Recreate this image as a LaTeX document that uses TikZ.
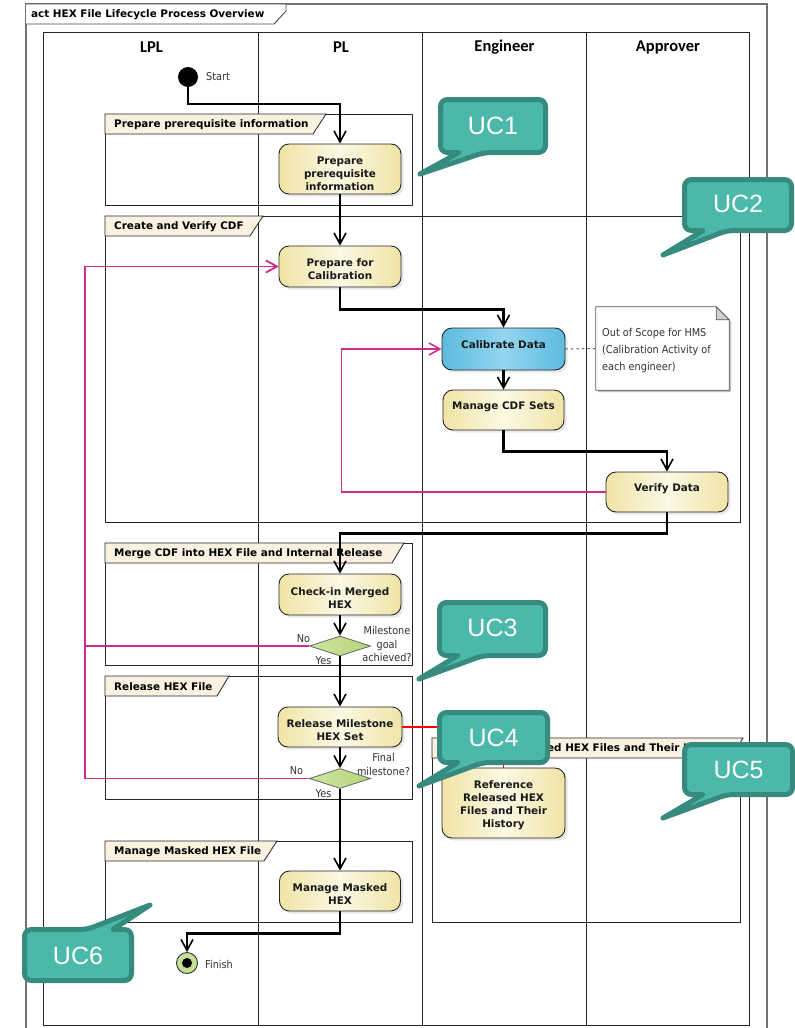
\documentclass[tikz,border=0pt]{standalone}
\usepackage{fontspec}
\setmainfont{DejaVu Sans}
\newfontfamily\verdfont{DejaVu Sans}
\newfontfamily\tahfont{DejaVu Sans}[FakeStretch=0.9]
\newfontfamily\calfont{Carlito}
\newfontfamily\arifont{Liberation Sans}
\usetikzlibrary{arrows.meta,shapes.geometric,shadows,calc}

\definecolor{actEdge}{HTML}{F0E4A6}
\definecolor{actMid}{HTML}{FBF8E4}
\definecolor{calEdge}{HTML}{5DBBE0}
\definecolor{calMid}{HTML}{93D5EF}
\definecolor{tabFill}{HTML}{FBF1E1}
\definecolor{ucFill}{HTML}{4BB9AA}
\definecolor{ucLine}{HTML}{378A7E}
\definecolor{loopLine}{HTML}{CF2A8E}
\definecolor{decEdge}{HTML}{B5D479}
\definecolor{decMid}{HTML}{CFE4A2}
\definecolor{finFill}{HTML}{C6DF96}
\definecolor{labelGray}{HTML}{333333}

\tikzset{
  frameline/.style={draw=black!55, line width=1.2pt},
  laneline/.style={draw=black!85, line width=0.8pt},
  grpline/.style={draw=black!85, line width=0.8pt},
  tabshape/.style={fill=tabFill, draw=black!85, line width=0.8pt},
  tablabel/.style={font=\verdfont\bfseries\fontsize{10.4}{12}\selectfont, inner sep=0pt, anchor=west},
  lanehead/.style={font=\calfont\bfseries\fontsize{16.5}{18}\selectfont, inner sep=0pt},
  smalllabel/.style={font=\tahfont\fontsize{10.8}{13.5}\selectfont, text=labelGray, inner sep=0pt, align=center},
  action/.style={rectangle, rounded corners=10pt, draw=black!85, line width=0.9pt,
    left color=actEdge, right color=actEdge, middle color=actMid,
    minimum width=122pt, minimum height=41pt, inner sep=0pt, align=center,
    font=\verdfont\bfseries\fontsize{10.4}{13}\selectfont, text=black!90,
    drop shadow={shadow xshift=2.5pt, shadow yshift=-2.5pt, fill=black!18}},
  oneline/.style={text depth=9pt},
  calaction/.style={action, left color=calEdge, right color=calEdge, middle color=calMid},
  decision/.style={diamond, aspect=3, draw=black!60, line width=0.8pt,
    left color=decMid, right color=decEdge, minimum width=61pt, minimum height=20pt, inner sep=0pt},
  flow/.style={draw=black, line width=2.1pt, -{Straight Barb[length=11pt,width=12pt,line width=1.6pt]}},
  backflow/.style={draw=loopLine, line width=1.7pt, -{Straight Barb[length=11pt,width=12pt,line width=1.5pt]}},
  redlink/.style={draw=red, line width=1.4pt},
  uc/.style={fill=ucFill, draw=ucLine, line width=5pt, line join=round},
  uctext/.style={font=\arifont\fontsize{25}{25}\selectfont, text=white, inner sep=0pt},
}

% group frame with a name tab: x1, y1, x2, y2, tab top-right x, tab bottom-right x, node name, label, label indent
\newcommand\groupframe[9]{%
  \draw[grpline] (#1,#2) rectangle (#3,#4);
  \draw[tabshape] (#1,#2) -- (#5,#2) -- (#6,#2+20) -- (#1,#2+20) -- cycle;
  \node[tablabel] (#7) at (#1+#9,#2+10.5) {#8};
}
% top strut that lowers stacked activity text a little
\newcommand\lowerby[1]{\rule{0pt}{#1}}

\begin{document}
\begin{tikzpicture}[x=1pt,y=-1pt]
\useasboundingbox (0,0) rectangle (795,1028);
\fill[white] (0,0) rectangle (795,1028);

% diagram frame and title tab
\draw[frameline] (26,1028) -- (26,4) -- (767,4) -- (767,1028);
\draw[draw=black!70, line width=0.9pt, fill=white] (26,4) -- (286,4) -- (286,11) -- (274,24) -- (26,24);
\node[tablabel] (title) at (31,14.5) {act HEX File Lifecycle Process Overview};

% swimlanes
\draw[laneline] (43,32) rectangle (749,1025);
\foreach \lx in {258,422,586} \draw[laneline] (\lx,32) -- (\lx,1025);
\node[lanehead] (lpl) at (151.5,47) {LPL};
\node[lanehead] (pl) at (341,47) {PL};
\node[lanehead] (eng) at (504.5,47) {Engineer};
\node[lanehead] (appr) at (668,47) {Approver};

% grouped regions
\groupframe{105}{114}{412}{205}{326}{313}{g1}{Prepare prerequisite information}{9}
\groupframe{105}{216}{740}{522}{263}{250}{g2}{Create and Verify CDF}{9}
\groupframe{105}{543}{412}{665}{404}{392}{g3}{Merge CDF into HEX File and Internal Release}{9}
\groupframe{105}{676}{412}{799}{229}{217}{g4}{Release HEX File}{9}
\groupframe{432}{738}{740}{922}{743}{731}{g5}{Reference Released HEX Files and Their History}{13}
\groupframe{105}{841}{412}{922}{277}{264}{g6}{Manage Masked HEX File}{9}

% start and finish
\node[circle, fill=black, minimum size=20pt, inner sep=0pt] (start) at (188,77) {};
\node[smalllabel, anchor=west] (startlbl) at (206,77) {Start};
\node[circle, draw=black!80, line width=0.9pt, fill=finFill, minimum size=21pt, inner sep=0pt] (fin) at (187,963) {};
\node[circle, fill=black, minimum size=10pt, inner sep=0pt] (findot) at (fin) {};
\node[smalllabel, anchor=west] (finlbl) at (205,964) {Finish};

% activities
\node[action, minimum height=50pt] (a1) at (340,169) {\lowerby{17pt}Prepare\\prerequisite\\information};
\node[action] (a2) at (340,266.5) {\lowerby{13pt}Prepare for\\Calibration};
\node[calaction, oneline, minimum width=123pt, minimum height=42pt] (a3) at (503.5,349) {Calibrate Data};
\node[action, oneline, minimum width=121pt, minimum height=40pt] (a4) at (503.5,410) {Manage CDF Sets};
\node[action, oneline, minimum height=40pt] (a5) at (667,492) {Verify Data};
\node[action] (a6) at (340,594.5) {\lowerby{14pt}Check-in Merged\\HEX};
\node[decision] (d1) at (340,646) {};
\node[action, minimum width=124pt, minimum height=40pt] (a7) at (340,727) {\lowerby{14pt}Release Milestone\\HEX Set};
\node[decision] (d2) at (340,778.5) {};
\node[action, minimum width=123pt, minimum height=70pt] (a8) at (503.5,803) {\lowerby{12pt}Reference\\Released HEX\\Files and Their\\History};
\node[action, minimum width=121pt, minimum height=40pt] (a9) at (340,891) {\lowerby{14pt}Manage Masked\\HEX};

% decision labels
\node[smalllabel] (d1q) at (387,644) {Milestone\\goal\\achieved?};
\node[smalllabel] (d1no) at (303.5,638.5) {No};
\node[smalllabel] (d1yes) at (323.5,661) {Yes};
\node[smalllabel, font=\tahfont\fontsize{10.8}{14}\selectfont] (d2q) at (383.5,764) {Final\\milestone?};
\node[smalllabel] (d2no) at (296.5,771) {No};
\node[smalllabel] (d2yes) at (323.5,794) {Yes};

% note
\node[minimum width=133pt, minimum height=83pt, inner sep=0pt] (note) at (662.5,348.5) {};
\fill[black!25] ($(note.north east)+(2,14)$) -- ($(note.south east)+(2,2)$) -- ($(note.south west)+(2,2)$) -- ($(note.south west)+(2,0)$) -- ($(note.south east)+(0,0)$) -- ($(note.north east)+(0,14)$) -- cycle;
\draw[draw=black!65, line width=0.8pt, fill=white] (note.north west) -- ($(note.north east)+(-13,0)$) -- ($(note.north east)+(0,13)$) -- (note.south east) -- (note.south west) -- cycle;
\draw[draw=black!65, line width=0.8pt, fill=black!18] ($(note.north east)+(-13,0)$) -- ($(note.north east)+(-13,13)$) -- ($(note.north east)+(0,13)$) -- cycle;
\node[font=\tahfont\fontsize{10.8}{17}\selectfont, text=labelGray, align=left, inner sep=0pt, anchor=west] (notetxt) at (602,351) {Out of Scope for HMS\\(Calibration Activity of\\each engineer)};
\draw[draw=black!60, line width=1pt, dash pattern=on 2.5pt off 3pt] (a3.east) -- (note.west);

% control flow
\draw[flow] (start.south) -- ++(0,17) -| (a1.north);
\draw[flow] (a1.south) -- (a2.north);
\draw[flow] (a2.south) -- ++(0,22) -| (a3.north);
\draw[flow] (a3.south) -- (a4.north);
\draw[flow] (a4.south) -- ++(0,21) -| (a5.north);
\draw[flow] (a5.south) -- ++(0,21) -| (a6.north);
\draw[flow] (a6.south) -- (d1.north);
\draw[flow] (d1.south) -- (a7.north);
\draw[flow] (a7.south) -- (d2.north);
\draw[flow] (d2.south) -- (a9.north);
\draw[flow] (a9.south) -- ++(0,22) -| (fin.north);

% rework loops
\draw[backflow] (a5.west) -- ++(-264,0) |- (a3.west);
\draw[backflow] (d1.west) -- ++(-224,0) |- (a2.west);
\draw[backflow] (d2.west) -- ++(-224,0) |- (a2.west);

% trace link
\draw[redlink] (a7.east) -| (a8.north);

% use case callouts
\draw[uc] (493,99.5) [rounded corners=7pt] -- (545.5,99.5) -- (545.5,152.5) -- (484,152.5) [sharp corners] -- (420,174) -- (459,152.5) [rounded corners=7pt] -- (440.5,152.5) -- (440.5,99.5) -- cycle;
\node[uctext] (uc1) at (493,126) {UC1};

\draw[uc] (738,179.5) [rounded corners=7pt] -- (791.5,179.5) -- (791.5,230.5) -- (727,230.5) [sharp corners] -- (663,255) -- (703,230.5) [rounded corners=7pt] -- (684.5,230.5) -- (684.5,179.5) -- cycle;
\node[uctext] (uc2) at (738,204) {UC2};

\draw[uc] (492,602.5) [rounded corners=7pt] -- (545.5,602.5) -- (545.5,655.5) -- (483,655.5) [sharp corners] -- (419,679) -- (458,655.5) [rounded corners=7pt] -- (439.5,655.5) -- (439.5,602.5) -- cycle;
\node[uctext] (uc3) at (492.5,628) {UC3};

\draw[uc] (493,712.5) [rounded corners=7pt] -- (547.5,712.5) -- (547.5,762.5) -- (483,762.5) [sharp corners] -- (419,786) -- (458,762.5) [rounded corners=7pt] -- (439.5,762.5) -- (439.5,712.5) -- cycle;
\node[uctext] (uc4) at (493.5,738) {UC4};

\draw[uc] (738,744.5) [rounded corners=7pt] -- (792.5,744.5) -- (792.5,794.5) -- (727,794.5) [sharp corners] -- (663,818) -- (703,794.5) [rounded corners=7pt] -- (684.5,794.5) -- (684.5,744.5) -- cycle;
\node[uctext] (uc5) at (738.5,770) {UC5};

\draw[uc] (78,980.5) [rounded corners=7pt] -- (24.5,980.5) -- (24.5,929.5) -- (87,929.5) [sharp corners] -- (150,905) -- (113,929.5) [rounded corners=7pt] -- (131.5,929.5) -- (131.5,980.5) -- cycle;
\node[uctext] (uc6) at (78,956) {UC6};

\end{tikzpicture}
\end{document}
